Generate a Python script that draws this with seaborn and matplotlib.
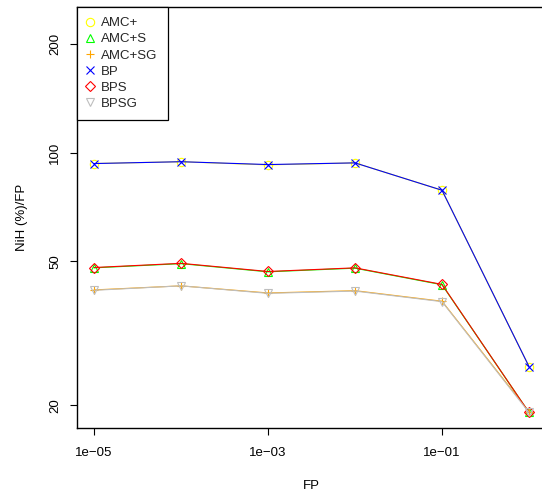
import pandas as pd
import matplotlib.pyplot as plt
import seaborn as sns
from matplotlib.lines import Line2D
from matplotlib.ticker import FixedLocator, NullLocator

FP = [1e-5, 1e-4, 1e-3, 1e-2, 1e-1, 1.0]

AMC_PLUS = [93.3, 94.4, 92.5, 93.7, 78.7, 25.6]
AMC_S = [48.0, 49.3, 46.8, 47.9, 43.1, 19.1]
AMC_SG = [41.7, 42.8, 40.9, 41.5, 38.8, 19.2]
BP = [93.3, 94.4, 92.7, 93.7, 78.7, 25.6]
BPS = [48.1, 49.4, 46.9, 48.0, 43.2, 19.1]
BPSG = [41.6, 42.8, 40.8, 41.4, 38.7, 19.1]

SERIES = ['AMC+', 'AMC+S', 'AMC+SG', 'BP', 'BPS', 'BPSG']
VALUES = [AMC_PLUS, AMC_S, AMC_SG, BP, BPS, BPSG]
COLORS = {'AMC+': '#FFFF00', 'AMC+S': '#00FF00', 'AMC+SG': '#FFA500',
          'BP': '#0000FF', 'BPS': '#FF0000', 'BPSG': '#BEBEBE'}
MARKERS = {'AMC+': 'o', 'AMC+S': '^', 'AMC+SG': '+',
           'BP': 'x', 'BPS': 'D', 'BPSG': 'v'}

Y_TICKS = [20, 50, 100, 200]
X_TICKS = [1e-5, 1e-3, 1e-1]
X_TICK_LABELS = ['1e\u221205', '1e\u221203', '1e\u221201']

rows = []
for name, vals in zip(SERIES, VALUES):
    for x, y in zip(FP, vals):
        rows.append({'FP': x, 'NiH': y, 'series': name})
df = pd.DataFrame(rows)

sns.set_theme(style="white")
plt.rcParams['font.family'] = ['Liberation Sans', 'DejaVu Sans']
plt.rcParams['font.size'] = 9.5

W, H = 542, 495
fig = plt.figure(figsize=(W / 100, H / 100), dpi=100)
left, right, top, bottom = 76.6, 546.4, 7, 428
ax = fig.add_axes([left / W, (H - bottom) / H, (right - left) / W, (bottom - top) / H])

for name in SERIES:
    sub = df[df['series'] == name]
    sns.lineplot(data=sub, x='FP', y='NiH', ax=ax, color=COLORS[name],
                 marker=MARKERS[name], linewidth=0.8, markersize=6,
                 markeredgewidth=0.8, legend=False)

for line in ax.lines:
    c = line.get_color()
    line.set_markerfacecolor('none')
    line.set_markeredgecolor(c)
    if line.get_marker() == 'D':
        line.set_markersize(5)

ax.set_xscale('log')
ax.set_yscale('log')
ax.set_xlim(10 ** -5.2, 10 ** 0.2)
ax.set_ylim(17.3, 253)

ax.xaxis.set_major_locator(FixedLocator(X_TICKS))
ax.set_xticklabels(X_TICK_LABELS)
ax.xaxis.set_minor_locator(NullLocator())
ax.yaxis.set_major_locator(FixedLocator(Y_TICKS))
ax.set_yticklabels([str(v) for v in Y_TICKS], rotation=90, va='center')
ax.yaxis.set_minor_locator(NullLocator())

ax.tick_params(axis='both', which='major', direction='out', length=5,
               width=0.8, color='black', labelsize=9.5, labelcolor='black',
               left=True, bottom=True)
ax.tick_params(axis='x', pad=9)
ax.tick_params(axis='y', pad=6)

for s in ax.spines.values():
    s.set_visible(True)
    s.set_color('black')
    s.set_linewidth(1.0)

ax.set_xlabel('FP', fontsize=9.5, color='black', labelpad=15)
ax.set_ylabel('NiH (%)/FP', fontsize=9.5, color='black', labelpad=15)

handles = [Line2D([], [], linestyle='none', marker=MARKERS[n], color=COLORS[n],
                  markerfacecolor='none', markeredgecolor=COLORS[n],
                  markersize=6 if n != 'BPS' else 5, markeredgewidth=0.8)
           for n in SERIES]
leg = ax.legend(handles, SERIES, loc='upper left', borderaxespad=0,
                frameon=True, fancybox=False, edgecolor='black',
                fontsize=9.5, handlelength=0.6, handletextpad=0.52,
                labelspacing=0.3, borderpad=0.75)
leg.get_frame().set_linewidth(0.9)
leg.get_frame().set_alpha(1)

fig.savefig('out.png', dpi=100)
